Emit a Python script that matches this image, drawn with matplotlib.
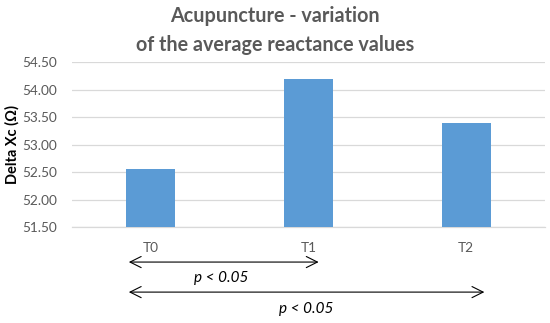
import matplotlib
matplotlib.use("Agg")
import matplotlib.pyplot as plt

categories = ["T0", "T1", "T2"]
values = [52.55, 54.19, 53.39]
yticks = [51.50, 52.00, 52.50, 53.00, 53.50, 54.00, 54.50]
comparisons = [(0, 1, "p < 0.05"), (0, 2, "p < 0.05")]

plt.rcParams['font.family'] = ['Lato', 'DejaVu Sans']

fig = plt.figure(figsize=(5.5, 3.23), dpi=100)
ax = fig.add_axes([0.131, 0.297, 0.86, 0.511])

x = list(range(len(categories)))
ax.bar(x, values, width=0.31, color="#5B9BD5", zorder=3)
ax.set_ylim(51.5, 54.5)
ax.set_xlim(-0.5, 2.5)
ax.set_yticks(yticks)
ax.set_yticklabels([f"{v:.2f}" for v in yticks], color="#595959", fontsize=9.8)
ax.set_xticks(x)
ax.set_xticklabels(categories, color="#595959", fontsize=9.8)
ax.tick_params(axis='both', length=0)
ax.tick_params(axis='x', pad=11)
ax.tick_params(axis='y', pad=11)
ax.grid(axis='y', color="#D9D9D9", linewidth=0.9, zorder=0)
for s in ["top", "right", "left"]:
    ax.spines[s].set_visible(False)
ax.spines["bottom"].set_color("#D9D9D9")
ax.spines["bottom"].set_linewidth(0.9)

ax.set_ylabel("Delta Xc (Ω)", fontsize=10.5, fontweight='bold', color="black")
ax.yaxis.set_label_coords(-0.11, 0.5)

fig.text(0.5, 0.950, "Acupuncture - variation", ha='center', va='center',
         fontsize=14.2, fontweight='bold', color="#595959")
fig.text(0.5, 0.862, "of the average reactance values", ha='center', va='center',
         fontsize=14.2, fontweight='bold', color="#595959")

arrow_y = [50.864, 50.318]
text_y = [50.573, 50.009]
arrow_x0 = [-0.14, -0.14]
arrow_x1 = [1.064, 2.115]
text_x = [0.446, 0.987]
for (a, b, lab), ay, ty, x0, x1, tx in zip(comparisons, arrow_y, text_y, arrow_x0, arrow_x1, text_x):
    ax.annotate("", xy=(x1, ay), xytext=(x0, ay), xycoords='data',
                arrowprops=dict(arrowstyle="<->,head_length=0.8,head_width=0.4",
                                color="black", lw=0.8, shrinkA=0, shrinkB=0),
                annotation_clip=False)
    ax.text(tx, ty, lab, ha='center', va='center',
            fontsize=11, style='italic', color="black", clip_on=False)

fig.savefig("out.png", dpi=100)
